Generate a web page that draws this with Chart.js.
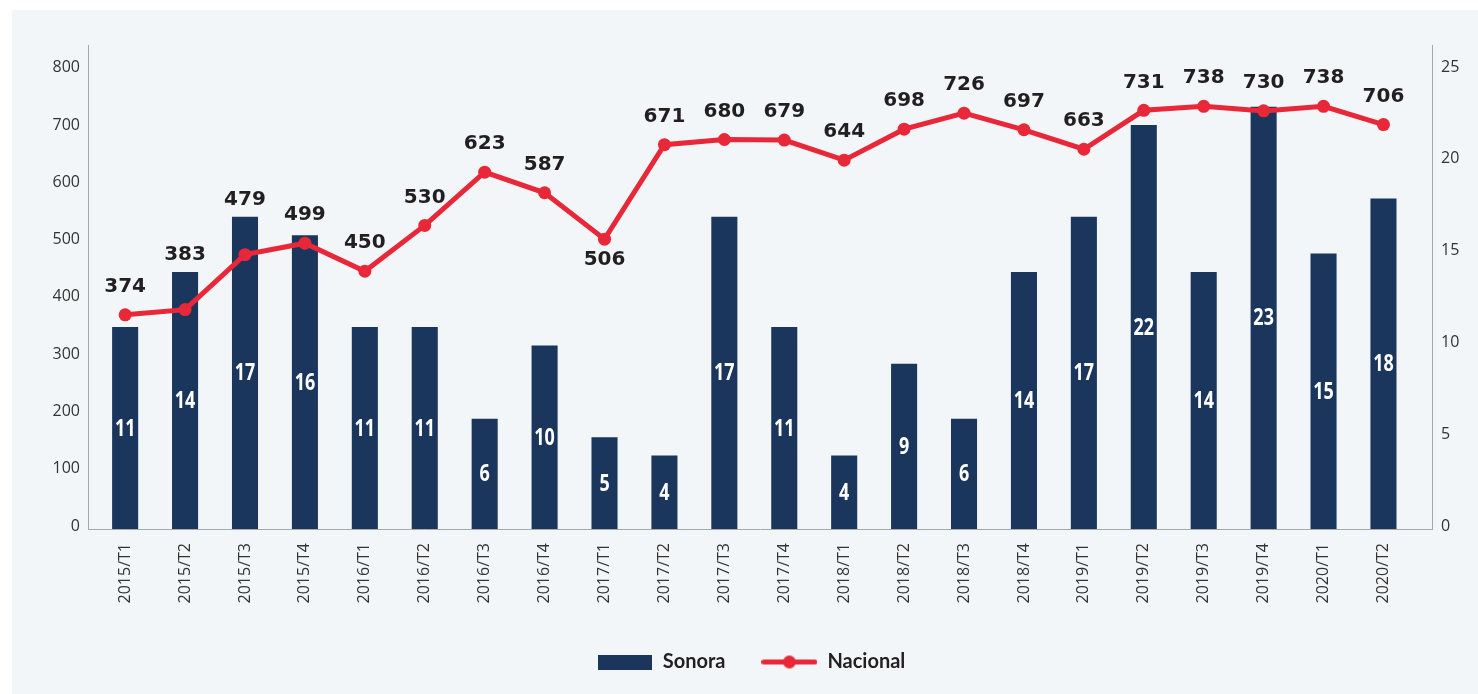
<!DOCTYPE html>
<html>
<head>
<meta charset="utf-8">
<script src="https://cdn.jsdelivr.net/npm/chart.js@4.4.1/dist/chart.umd.min.js"></script>
<style>
  html, body { margin: 0; padding: 0; background: #fff; }
  #panel { position: absolute; left: 12px; top: 10px; width: 1466px; height: 684px; background: #f3f6f8; }
  #wrap { position: absolute; left: 0; top: 0; width: 1478px; height: 694px; }
</style>
</head>
<body>
<div id="panel"></div>
<div id="wrap"><canvas id="myChart" width="1478" height="694"></canvas></div>
<script>
const periodos = [
  "2015/T1", "2015/T2", "2015/T3", "2015/T4",
  "2016/T1", "2016/T2", "2016/T3", "2016/T4",
  "2017/T1", "2017/T2", "2017/T3", "2017/T4",
  "2018/T1", "2018/T2", "2018/T3", "2018/T4",
  "2019/T1", "2019/T2", "2019/T3", "2019/T4",
  "2020/T1", "2020/T2",
];
const sonora = [11, 14, 17, 16, 11, 11, 6, 10, 5, 4, 17, 11, 4, 9, 6, 14, 17, 22, 14, 23, 15, 18];
const nacional = [374, 383, 479, 499, 450, 530, 623, 587, 506, 671, 680, 679, 644, 698, 726, 697, 663, 731, 738, 730, 738, 706];

const azul = "#1b365d";
const rojo = "#e82838";
const borde = "#a8a8a8";
const texto = "#333";

// legend icons
function iconoBarra() {
  const c = document.createElement("canvas");
  c.width = 54; c.height = 15;
  const g = c.getContext("2d");
  g.fillStyle = azul;
  g.fillRect(0, 0, 54, 15);
  return c;
}
function iconoLinea() {
  const c = document.createElement("canvas");
  c.width = 56; c.height = 15;
  const g = c.getContext("2d");
  g.strokeStyle = rojo; g.fillStyle = rojo;
  g.lineWidth = 5; g.lineCap = "round";
  g.beginPath(); g.moveTo(2.5, 7.5); g.lineTo(53.5, 7.5); g.stroke();
  g.beginPath(); g.arc(28, 7.5, 6.5, 0, Math.PI * 2); g.fill();
  return c;
}
const iconos = { Sonora: iconoBarra(), Nacional: iconoLinea() };

// value labels on bars and above the line
const etiquetas = {
  id: "etiquetas",
  afterDatasetsDraw(chart) {
    const ctx = chart.ctx;
    const barras = chart.getDatasetMeta(0).data;
    const puntos = chart.getDatasetMeta(1).data;
    ctx.save();
    ctx.textAlign = "center";
    ctx.textBaseline = "middle";
    ctx.fillStyle = "#fff";
    ctx.font = 'bold 23px "Open Sans", sans-serif';
    barras.forEach((b, i) => {
      // narrow look: squeeze the text horizontally
      ctx.save();
      ctx.translate(b.x, (b.y + b.base) / 2 + 1);
      ctx.scale(0.78, 1);
      ctx.fillText(sonora[i], 0, 0);
      ctx.restore();
    });
    ctx.fillStyle = "#231f20";
    ctx.font = 'bold 20px "DejaVu Sans", sans-serif';
    puntos.forEach((p, i) => {
      const v = nacional[i];
      const ant = nacional[i - 1], sig = nacional[i + 1];
      const valle = ant !== undefined && sig !== undefined && Math.min(ant, sig) - v > 60;
      const y = valle ? p.y + 21 : Math.min(p.y - 28, barras[i].y - 17);
      ctx.fillText(v, p.x, y);
    });
    ctx.restore();
  },
};

Chart.defaults.font.family = '"Open Sans", sans-serif';
Chart.defaults.color = texto;

const ctx = document.getElementById("myChart").getContext("2d");
const myChart = new Chart(ctx, {
  data: {
    datasets: [
      {
        type: "bar",
        label: "Sonora",
        data: sonora.map((v, i) => ({ x: i, y: v })),
        backgroundColor: azul,
        yAxisID: "y1",
        categoryPercentage: 1,
        barPercentage: 0.435,
        order: 1,
      },
      {
        type: "line",
        label: "Nacional",
        data: nacional.map((v, i) => ({ x: i, y: v })),
        borderColor: rojo,
        backgroundColor: rojo,
        borderWidth: 5,
        pointRadius: 6.5,
        pointBorderWidth: 0,
        pointBackgroundColor: rojo,
        tension: 0,
        yAxisID: "y",
        order: 0,
      },
    ],
  },
  options: {
    responsive: false,
    animation: false,
    layout: { padding: { top: 45, left: 24, right: 0, bottom: 12 } },
    scales: {
      x: {
        type: "linear",
        offset: false,
        min: -0.62,
        max: 21.81,
        grid: { display: false, drawTicks: false },
        border: { display: true, dash: [2, 2], color: borde },
        ticks: {
          stepSize: 1,
          includeBounds: false,
          autoSkip: false,
          minRotation: 90,
          maxRotation: 90,
          padding: 14,
          font: { size: 16 },
          callback: (v) => periodos[v],
        },
        afterFit: (s) => { s.height = 87; },
      },
      y: {
        position: "left",
        min: 0,
        max: 845,
        grid: { display: false, drawTicks: false },
        border: { display: true, dash: [2, 2], color: borde },
        ticks: { stepSize: 100, includeBounds: false, padding: 8, labelOffset: -3, font: { size: 16 } },
        afterFit: (s) => { s.width = 64; },
      },
      y1: {
        position: "right",
        min: 0,
        max: 26.36,
        grid: { display: false, drawTicks: false },
        border: { display: true, dash: [2, 2], color: borde },
        ticks: { stepSize: 5, includeBounds: false, padding: 9, labelOffset: -3, font: { size: 16 } },
        afterFit: (s) => { s.width = 46; },
      },
    },
    plugins: {
      tooltip: { enabled: false },
      legend: {
        position: "bottom",
        labels: {
          usePointStyle: true,
          pointStyleWidth: 56,
          padding: 36,
          color: "#231f20",
          font: { family: "Lato, sans-serif", size: 20, weight: "bold" },
          generateLabels: (chart) => chart.data.datasets.map((ds, i) => ({
            text: ds.label,
            pointStyle: iconos[ds.label],
            fillStyle: ds.backgroundColor,
            strokeStyle: ds.backgroundColor,
            lineWidth: 0,
            hidden: !chart.isDatasetVisible(i),
            datasetIndex: i,
            fontColor: "#231f20",
          })),
        },
      },
    },
  },
  plugins: [etiquetas],
});
</script>
</body>
</html>
